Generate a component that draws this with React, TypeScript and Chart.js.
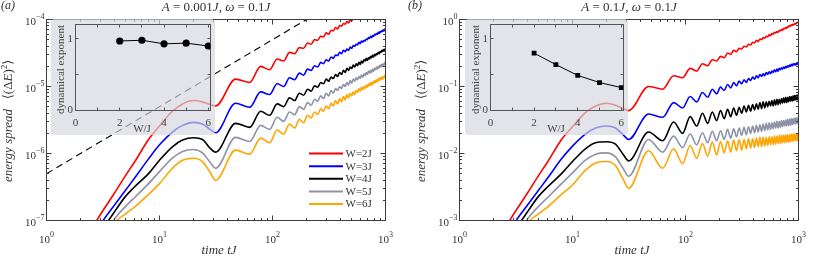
import React, { useEffect, useRef } from 'react';
import { Chart, registerables } from 'chart.js';

Chart.register(...registerables);

const SERIF = "'Liberation Serif', 'DejaVu Serif', 'Times New Roman', serif";
const AXIS_COLOR = '#3c3c3c';
const TEXT_COLOR = '#333333';
const INSET_BG = 'rgba(214, 215, 223, 0.68)';

// ---------- data ----------
const timeTJ = [
  2.5, 3, 4, 5, 6, 8, 10, 13, 16, 20, 24, 28,
  31.42, 47.12, 62.83, 78.54, 94.25, 109.96, 125.66, 141.37, 157.08, 172.79,
  188.5, 204.2, 219.91, 235.62, 251.33, 267.04, 282.74, 298.45, 314.16, 329.87,
  345.58, 361.28, 376.99, 392.7, 408.41, 424.12, 439.82, 455.53, 471.24, 486.95,
  502.65, 518.36, 534.07, 549.78, 565.49, 581.19, 596.9, 612.61, 628.32, 644.03,
  659.73, 675.44, 691.15, 706.86, 722.57, 738.27, 753.98, 769.69, 785.4, 801.11,
  816.81, 832.52, 848.23, 863.94, 879.65, 895.35, 911.06, 926.77, 942.48, 958.19,
  973.89, 989.6, 1005.31,
];

const seriesLabels = ['W=2J', 'W=3J', 'W=4J', 'W=5J', 'W=6J'];
const seriesColors = ['#ff0000', '#0000ff', '#000000', '#8e92a6', '#ffa500'];

// panel (a): log10 of energy spread, A = 0.001J
const log10SpreadA_W2 = [
  -7.13, -6.91, -6.59, -6.33, -6.13, -5.79, -5.59, -5.37, -5.26, -5.21, -5.23, -5.27,
  -5.29,
  -4.89, -4.94, -4.70, -4.75, -4.59, -4.62, -4.49, -4.51, -4.42, -4.43, -4.35, -4.37,
  -4.30, -4.31, -4.25, -4.26, -4.20, -4.22, -4.16, -4.17, -4.12, -4.14, -4.09, -4.10,
  -4.06, -4.07, -4.03, -4.05, -4.00, -4.02, -3.98, -3.99, -3.95, -3.97, -3.93, -3.95,
  null, null, null, null, null, null, null, null, null, null, null, null, null,
  null, null, null, null, null, null, null, null, null, null, null, null, null,
];
const log10SpreadA_W3 = [
  -7.3, -7.06, -6.77, -6.55, -6.37, -6.08, -5.87, -5.68, -5.58, -5.535, -5.56, -5.64,
  -5.69,
  -5.25, -5.31, -5.08, -5.12, -4.96, -5.00, -4.87, -4.90, -4.80, -4.83, -4.74, -4.76,
  -4.69, -4.71, -4.64, -4.66, -4.60, -4.62, -4.56, -4.58, -4.53, -4.54, -4.49, -4.51,
  -4.46, -4.48, -4.44, -4.46, -4.41, -4.43, -4.39, -4.40, -4.37, -4.38, -4.34, -4.36,
  -4.32, -4.34, -4.31, -4.32, -4.29, -4.30, -4.27, -4.28, -4.25, -4.27, -4.24, -4.25,
  -4.22, -4.23, -4.21, -4.22, -4.19, -4.21, -4.18, -4.19, -4.17, -4.18, -4.15, -4.17,
  -4.14, -4.15,
];
const log10SpreadA_W4 = [
  -7.5, -7.2, -6.87, -6.64, -6.50, -6.30, -6.10, -5.90, -5.80, -5.765, -5.79, -5.92,
  -5.98,
  -5.55, -5.61, -5.37, -5.43, -5.26, -5.30, -5.17, -5.21, -5.10, -5.13, -5.04, -5.07,
  -4.99, -5.01, -4.94, -4.96, -4.89, -4.92, -4.86, -4.88, -4.82, -4.85, -4.79, -4.82,
  -4.76, -4.79, -4.73, -4.76, -4.71, -4.73, -4.68, -4.71, -4.66, -4.69, -4.64, -4.67,
  -4.62, -4.65, -4.60, -4.62, -4.58, -4.61, -4.57, -4.59, -4.55, -4.57, -4.53, -4.56,
  -4.52, -4.54, -4.51, -4.52, -4.49, -4.51, -4.48, -4.49, -4.46, -4.48, -4.45, -4.47,
  -4.44, -4.46,
];
const log10SpreadA_W5 = [
  -7.7, -7.4, -6.98, -6.79, -6.66, -6.45, -6.27, -6.07, -5.97, -5.94, -5.99, -6.13,
  -6.22,
  -5.76, -5.82, -5.58, -5.64, -5.46, -5.52, -5.38, -5.42, -5.30, -5.34, -5.24, -5.28,
  -5.19, -5.22, -5.14, -5.18, -5.10, -5.14, -5.06, -5.10, -5.03, -5.06, -5.00, -5.03,
  -4.97, -5.00, -4.94, -4.98, -4.91, -4.95, -4.89, -4.92, -4.87, -4.90, -4.85, -4.88,
  -4.83, -4.86, -4.81, -4.84, -4.79, -4.82, -4.77, -4.80, -4.76, -4.79, -4.74, -4.77,
  -4.73, -4.75, -4.71, -4.74, -4.70, -4.72, -4.68, -4.71, -4.67, -4.70, -4.66, -4.68,
  -4.64, -4.67,
];
const log10SpreadA_W6 = [
  -7.9, -7.6, -7.05, -6.90, -6.80, -6.61, -6.45, -6.22, -6.10, -6.07, -6.12, -6.28,
  -6.40,
  -5.95, -6.01, -5.77, -5.84, -5.65, -5.71, -5.56, -5.62, -5.49, -5.54, -5.43, -5.47,
  -5.38, -5.42, -5.33, -5.37, -5.29, -5.33, -5.25, -5.29, -5.21, -5.26, -5.18, -5.23,
  -5.15, -5.20, -5.12, -5.17, -5.10, -5.14, -5.08, -5.12, -5.06, -5.09, -5.03, -5.07,
  -5.01, -5.05, -5.00, -5.03, -4.98, -5.01, -4.96, -4.99, -4.94, -4.98, -4.93, -4.96,
  -4.91, -4.94, -4.90, -4.93, -4.88, -4.91, -4.87, -4.90, -4.86, -4.89, -4.85, -4.87,
  -4.83, -4.86,
];

// panel (b): log10 of energy spread, A = 0.1J
const log10SpreadB_W2 = [
  -3.13, -2.91, -2.59, -2.33, -2.13, -1.79, -1.60, -1.39, -1.29, -1.25, -1.28, -1.33,
  -1.36,
  -1.00, -1.04, -0.84, -0.87, -0.73, -0.77, -0.66, -0.69, -0.60, -0.62, -0.55, -0.57,
  -0.50, -0.52, -0.46, -0.48, -0.43, -0.44, -0.40, -0.41, -0.37, -0.38, -0.34, -0.35,
  -0.31, -0.33, -0.29, -0.30, -0.27, -0.28, -0.25, -0.26, -0.23, -0.24, -0.21, -0.22,
  -0.19, -0.20, -0.18, -0.19, -0.16, -0.17, -0.15, -0.16, -0.13, -0.14, -0.12, -0.13,
  -0.11, -0.11, -0.09, -0.10, -0.08, -0.09, -0.07, -0.08, -0.06, -0.07, -0.05, -0.05,
  -0.04, -0.04,
];
const log10SpreadB_W3 = [
  -3.3, -3.06, -2.77, -2.55, -2.37, -2.08, -1.89, -1.71, -1.62, -1.59, -1.62, -1.72,
  -1.79,
  -1.41, -1.46, -1.24, -1.32, -1.15, -1.23, -1.09, -1.16, -1.04, -1.11, -1.01, -1.06,
  -0.97, -1.02, -0.94, -0.99, -0.92, -0.96, -0.90, -0.94, -0.88, -0.91, -0.86, -0.89,
  -0.84, -0.87, -0.82, -0.85, -0.81, -0.84, -0.79, -0.82, -0.78, -0.81, -0.77, -0.79,
  -0.75, -0.78, -0.74, -0.77, -0.73, -0.75, -0.72, -0.74, -0.71, -0.73, -0.70, -0.72,
  -0.69, -0.71, -0.68, -0.70, -0.67, -0.69, -0.66, -0.68, -0.66, -0.68, -0.65, -0.67,
  -0.64, -0.66,
];
const log10SpreadB_W4 = [
  -3.5, -3.2, -2.87, -2.64, -2.50, -2.30, -2.12, -1.93, -1.84, -1.825, -1.86, -2.01,
  -2.11,
  -1.68, -1.81, -1.53, -1.70, -1.45, -1.59, -1.40, -1.55, -1.38, -1.51, -1.36, -1.48,
  -1.34, -1.45, -1.32, -1.43, -1.31, -1.40, -1.29, -1.38, -1.28, -1.37, -1.27, -1.35,
  -1.26, -1.34, -1.24, -1.33, -1.23, -1.32, -1.23, -1.30, -1.22, -1.29, -1.21, -1.29,
  -1.20, -1.28, -1.19, -1.27, -1.19, -1.26, -1.18, -1.25, -1.17, -1.24, -1.16, -1.24,
  -1.16, -1.23, -1.15, -1.22, -1.15, -1.22, -1.14, -1.21, -1.13, -1.20, -1.13, -1.20,
  -1.12, -1.19,
];
const log10SpreadB_W5 = [
  -3.7, -3.4, -2.98, -2.79, -2.66, -2.45, -2.29, -2.10, -2.01, -1.99, -2.05, -2.22,
  -2.34,
  -1.79, -1.98, -1.74, -1.91, -1.71, -1.87, -1.69, -1.84, -1.67, -1.81, -1.66, -1.79,
  -1.64, -1.77, -1.63, -1.75, -1.62, -1.73, -1.61, -1.72, -1.60, -1.70, -1.59, -1.69,
  -1.58, -1.68, -1.57, -1.67, -1.56, -1.66, -1.55, -1.65, -1.54, -1.64, -1.54, -1.63,
  -1.53, -1.62, -1.52, -1.62, -1.52, -1.61, -1.51, -1.60, -1.51, -1.59, -1.50, -1.59,
  -1.49, -1.58, -1.49, -1.58, -1.48, -1.57, -1.48, -1.56, -1.47, -1.56, -1.47, -1.55,
  -1.46, -1.55,
];
const log10SpreadB_W6 = [
  -3.9, -3.6, -3.05, -2.90, -2.80, -2.61, -2.47, -2.25, -2.14, -2.12, -2.18, -2.38,
  -2.52,
  -1.96, -2.22, -1.93, -2.15, -1.88, -2.07, -1.85, -2.04, -1.83, -2.02, -1.82, -1.99,
  -1.81, -1.98, -1.80, -1.96, -1.79, -1.95, -1.79, -1.93, -1.78, -1.92, -1.78, -1.91,
  -1.77, -1.90, -1.76, -1.90, -1.76, -1.89, -1.76, -1.88, -1.75, -1.87, -1.75, -1.87,
  -1.74, -1.86, -1.74, -1.85, -1.73, -1.85, -1.73, -1.84, -1.73, -1.84, -1.72, -1.83,
  -1.72, -1.83, -1.72, -1.82, -1.71, -1.82, -1.71, -1.81, -1.71, -1.81, -1.71, -1.81,
  -1.70, -1.80,
];

// dashed guide line in panel (a)
const guideTime = [1, 1000];
const guideSpread = [5e-7, 5e-4];

// insets: dynamical exponent vs W/J
const insetW = [2, 3, 4, 5, 6];
const dynExponentA = [0.97, 0.98, 0.93, 0.94, 0.9];
const dynExponentB = [0.8, 0.64, 0.49, 0.39, 0.32];

// tick labels
const timeDecades = [0, 1, 2, 3];
const spreadDecadesA = [-7, -6, -5, -4];
const spreadDecadesB = [-3, -2, -1, 0];
const insetXTicks = [0, 2, 4, 6];
const insetYTicks = [0, 1];

// ---------- helpers ----------
type Seg = { t: string; f: string; dy?: number };

function drawRich(ctx: CanvasRenderingContext2D, segs: Seg[], x: number, y: number, align: string) {
  let w = 0;
  for (const s of segs) { ctx.font = s.f; w += ctx.measureText(s.t).width; }
  let cx = align === 'center' ? x - w / 2 : align === 'right' ? x - w : x;
  ctx.textAlign = 'left';
  for (const s of segs) {
    ctx.font = s.f;
    ctx.fillText(s.t, cx, y + (s.dy || 0));
    cx += ctx.measureText(s.t).width;
  }
}

function powSegs(e: number): Seg[] {
  const sup = e < 0 ? '\u2212' + Math.abs(e) : String(e);
  return [
    { t: '10', f: `11px ${SERIF}` },
    { t: sup, f: `8px ${SERIF}`, dy: -6 },
  ];
}

const snap = (p: number) => Math.round(p - 0.5) + 0.5;

const rom = (s: number) => `${s}px ${SERIF}`;
const ita = (s: number) => `italic ${s}px ${SERIF}`;

function titleSegs(a: string): Seg[] {
  return [
    { t: 'A', f: ita(13) },
    { t: ' = ' + a, f: rom(13) },
    { t: 'J', f: ita(13) },
    { t: ', ', f: rom(13) },
    { t: '\u03C9', f: ita(13) },
    { t: ' = 0.1', f: rom(13) },
    { t: 'J', f: ita(13) },
  ];
}

const yTitleSegs: Seg[] = [
  { t: 'energy spread', f: ita(13) },
  { t: '   \u27E8(\u0394', f: rom(13) },
  { t: 'E', f: ita(13) },
  { t: ')', f: rom(13) },
  { t: '2', f: rom(9), dy: -5 },
  { t: '\u27E9', f: rom(13) },
];

type MainCfg = {
  padding: { left: number; right: number; top: number; bottom: number };
  yMin: number;
  yMax: number;
  yDecades: number[];
  title: Seg[];
  panel: string;
  legend: boolean;
  datasets: any[];
};

function makeMainPlugin(cfg: MainCfg) {
  return {
    id: 'mainDecor',
    afterDraw(chart: any) {
      const ctx: CanvasRenderingContext2D = chart.ctx;
      const a = chart.chartArea;
      const xs = chart.scales.x;
      const ys = chart.scales.y;
      ctx.save();
      ctx.strokeStyle = AXIS_COLOR;
      ctx.lineWidth = 1;
      ctx.beginPath();
      for (let i = 0; i < timeDecades.length - 1; i++) {
        for (let m = 1; m < 10; m++) {
          const p = snap(xs.getPixelForValue(m * Math.pow(10, timeDecades[i])));
          const len = m === 1 ? 5 : 2.5;
          ctx.moveTo(p, a.bottom); ctx.lineTo(p, a.bottom - len);
          ctx.moveTo(p, a.top); ctx.lineTo(p, a.top + len);
        }
      }
      const yd = cfg.yDecades;
      for (let i = 0; i < yd.length - 1; i++) {
        for (let m = 1; m < 10; m++) {
          const p = snap(ys.getPixelForValue(m * Math.pow(10, yd[i])));
          const len = m === 1 ? 5 : 2.5;
          ctx.moveTo(a.left, p); ctx.lineTo(a.left + len, p);
          ctx.moveTo(a.right, p); ctx.lineTo(a.right - len, p);
        }
      }
      ctx.stroke();
      ctx.strokeRect(a.left, a.top, a.right - a.left, a.bottom - a.top);

      ctx.fillStyle = TEXT_COLOR;
      ctx.textBaseline = 'alphabetic';
      for (const e of timeDecades) {
        drawRich(ctx, powSegs(e), xs.getPixelForValue(Math.pow(10, e)), a.bottom + 22, 'center');
      }
      for (const e of yd) {
        drawRich(ctx, powSegs(e), a.left - 2, ys.getPixelForValue(Math.pow(10, e)) + 5.5, 'right');
      }
      const cx = (a.left + a.right) / 2;
      drawRich(ctx, cfg.title, cx, 11, 'center');
      drawRich(ctx, [{ t: cfg.panel, f: ita(12) }], 1, 9, 'left');
      drawRich(ctx, [{ t: 'time tJ', f: ita(13) }], cx + 3, 254, 'center');

      ctx.save();
      ctx.translate(a.left - 35, 182);
      ctx.rotate(-Math.PI / 2);
      drawRich(ctx, yTitleSegs, 0, 0, 'left');
      ctx.restore();

      if (cfg.legend) {
        seriesLabels.forEach((lab, i) => {
          const y = 153.5 + 12.65 * i;
          ctx.strokeStyle = seriesColors[i];
          ctx.lineWidth = 2;
          ctx.beginPath();
          ctx.moveTo(309, y); ctx.lineTo(343, y);
          ctx.stroke();
          ctx.fillStyle = TEXT_COLOR;
          ctx.textBaseline = 'middle';
          drawRich(ctx, [{ t: lab, f: rom(11) }], 345.5, y + 0.5, 'left');
        });
      }
      ctx.restore();
    },
  };
}

function curveDataset(logVals: (number | null)[], i: number) {
  const data: { x: number; y: number }[] = [];
  logVals.forEach((v, j) => {
    if (v !== null) data.push({ x: timeTJ[j], y: Math.pow(10, v) });
  });
  return {
    label: seriesLabels[i],
    data,
    borderColor: seriesColors[i],
    backgroundColor: seriesColors[i],
    borderWidth: 1.6,
    pointRadius: 0,
    cubicInterpolationMode: 'monotone',
    fill: false,
  };
}

function createMain(canvas: HTMLCanvasElement, cfg: MainCfg) {
  return new Chart(canvas, {
    type: 'line',
    data: { datasets: cfg.datasets },
    options: {
      animation: false,
      responsive: false,
      devicePixelRatio: 1,
      events: [],
      layout: { padding: cfg.padding },
      plugins: { legend: { display: false }, tooltip: { enabled: false }, title: { display: false } },
      scales: {
        x: { type: 'logarithmic', min: 1, max: 1000, display: false },
        y: { type: 'logarithmic', min: cfg.yMin, max: cfg.yMax, display: false },
      },
    } as any,
    plugins: [makeMainPlugin(cfg) as any],
  });
}

function makeInsetPlugin() {
  return {
    id: 'insetDecor',
    beforeDraw(chart: any) {
      const ctx: CanvasRenderingContext2D = chart.ctx;
      const w = chart.width, h = chart.height, r = 4;
      ctx.save();
      ctx.fillStyle = INSET_BG;
      ctx.beginPath();
      ctx.moveTo(r, 0);
      ctx.lineTo(w - r, 0); ctx.quadraticCurveTo(w, 0, w, r);
      ctx.lineTo(w, h - r); ctx.quadraticCurveTo(w, h, w - r, h);
      ctx.lineTo(r, h); ctx.quadraticCurveTo(0, h, 0, h - r);
      ctx.lineTo(0, r); ctx.quadraticCurveTo(0, 0, r, 0);
      ctx.closePath();
      ctx.fill();
      ctx.restore();
    },
    beforeDatasetsDraw(chart: any) {
      const ctx: CanvasRenderingContext2D = chart.ctx;
      const a = chart.chartArea;
      const xs = chart.scales.x, ys = chart.scales.y;
      ctx.save();
      ctx.strokeStyle = '#555';
      ctx.lineWidth = 1;
      ctx.beginPath();
      for (let v = 0; v <= 6; v++) {
        const p = snap(xs.getPixelForValue(v));
        ctx.moveTo(p, a.bottom); ctx.lineTo(p, a.bottom - 3);
        ctx.moveTo(p, a.top); ctx.lineTo(p, a.top + 3);
      }
      for (const v of [0, 0.5, 1]) {
        const p = snap(ys.getPixelForValue(v));
        ctx.moveTo(a.left, p); ctx.lineTo(a.left + 3, p);
        ctx.moveTo(a.right, p); ctx.lineTo(a.right - 3, p);
      }
      ctx.stroke();
      ctx.strokeRect(a.left, a.top, a.right - a.left, a.bottom - a.top);
      ctx.fillStyle = '#444';
      ctx.textBaseline = 'alphabetic';
      for (const v of insetXTicks) {
        drawRich(ctx, [{ t: String(v), f: rom(11) }], xs.getPixelForValue(v), a.bottom + 15, 'center');
      }
      ctx.textBaseline = 'middle';
      for (const v of insetYTicks) {
        drawRich(ctx, [{ t: String(v), f: rom(11) }], a.left - 2.5, ys.getPixelForValue(v), 'right');
      }
      ctx.textBaseline = 'alphabetic';
      drawRich(ctx, [{ t: 'W/J', f: rom(11) }], (a.left + a.right) / 2 - 1, a.bottom + 21, 'center');
      ctx.save();
      ctx.translate(a.left - 11.5, (a.top + a.bottom) / 2 + 2);
      ctx.rotate(-Math.PI / 2);
      drawRich(ctx, [{ t: 'dynamical exponent', f: rom(11) }], 0, 0, 'center');
      ctx.restore();
      ctx.restore();
    },
  };
}

function createInset(canvas: HTMLCanvasElement, values: number[], style: string, radius: number, padLeft: number) {
  return new Chart(canvas, {
    type: 'line',
    data: {
      datasets: [{
        data: insetW.map((w, i) => ({ x: w, y: values[i] })),
        borderColor: '#000',
        borderWidth: 1,
        pointStyle: style,
        pointRadius: radius,
        pointBackgroundColor: '#000',
        pointBorderColor: '#000',
        pointBorderWidth: 0,
        tension: 0,
      }],
    },
    options: {
      animation: false,
      responsive: false,
      devicePixelRatio: 1,
      events: [],
      layout: { padding: { left: padLeft, right: 4.5, top: 5.5, bottom: 24.5 } },
      plugins: { legend: { display: false }, tooltip: { enabled: false }, title: { display: false } },
      scales: {
        x: { type: 'linear', min: 0, max: 6.1, display: false },
        y: { type: 'linear', min: 0, max: 1.2, display: false },
      },
    } as any,
    plugins: [makeInsetPlugin() as any],
  });
}

export default function App() {
  const mainARef = useRef<HTMLCanvasElement>(null);
  const mainBRef = useRef<HTMLCanvasElement>(null);
  const insetARef = useRef<HTMLCanvasElement>(null);
  const insetBRef = useRef<HTMLCanvasElement>(null);

  useEffect(() => {
    const seriesA = [log10SpreadA_W2, log10SpreadA_W3, log10SpreadA_W4, log10SpreadA_W5, log10SpreadA_W6];
    const seriesB = [log10SpreadB_W2, log10SpreadB_W3, log10SpreadB_W4, log10SpreadB_W5, log10SpreadB_W6];
    const guide = {
      label: 'guide',
      data: guideTime.map((t, i) => ({ x: t, y: guideSpread[i] })),
      borderColor: '#000',
      borderWidth: 1.1,
      borderDash: [7, 4.5],
      pointRadius: 0,
      fill: false,
    };
    const charts = [
      createMain(mainARef.current!, {
        padding: { left: 46.5, right: 21.5, top: 19.5, bottom: 35.5 },
        yMin: 1e-7, yMax: 1e-4, yDecades: spreadDecadesA,
        title: titleSegs('0.001'), panel: '(a)', legend: true,
        datasets: [guide, ...seriesA.map((s, i) => curveDataset(s, i))],
      }),
      createMain(mainBRef.current!, {
        padding: { left: 52.5, right: 15.5, top: 19.5, bottom: 35.5 },
        yMin: 1e-3, yMax: 1, yDecades: spreadDecadesB,
        title: titleSegs('0.1'), panel: '(b)', legend: false,
        datasets: seriesB.map((s, i) => curveDataset(s, i)),
      }),
      createInset(insetARef.current!, dynExponentA, 'circle', 3.6, 24.5),
      createInset(insetBRef.current!, dynExponentB, 'rect', 3.4, 25.5),
    ];
    return () => charts.forEach((c) => c.destroy());
  }, []);

  const abs = (left: number, top: number, w: number, h: number) => ({
    position: 'absolute' as const, left, top, width: w, height: h, display: 'block',
  });

  return (
    <div style={{ position: 'relative', width: 814, height: 256, overflow: 'hidden', background: '#fff' }}>
      <style>{'html,body{margin:0;padding:0;background:#fff;}'}</style>
      <canvas ref={mainARef} width={407} height={256} style={abs(0, 0, 407, 256)} />
      <canvas ref={mainBRef} width={407} height={256} style={abs(407, 0, 407, 256)} />
      <canvas ref={insetARef} width={164} height={116} style={abs(51, 19, 164, 116)} />
      <canvas ref={insetBRef} width={163} height={116} style={abs(465, 19, 163, 116)} />
    </div>
  );
}
